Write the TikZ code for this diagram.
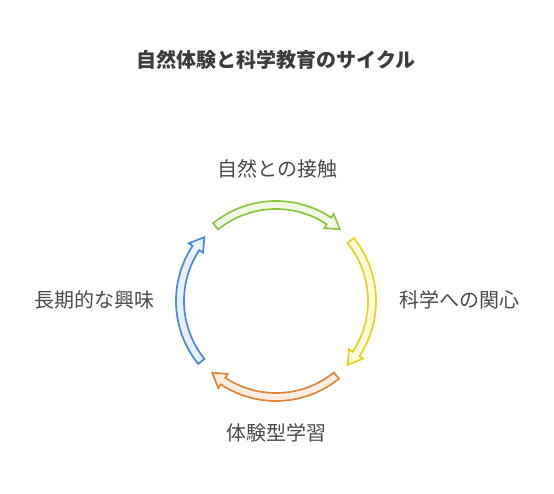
\documentclass[tikz,border=0pt]{standalone}
\usepackage{fontspec}
\setmainfont{Noto Sans CJK JP}
\usepackage{tikz}
\usetikzlibrary{positioning}
\usepackage{color}

\definecolor{grline}{HTML}{8CC63F}
\definecolor{grfill}{HTML}{F1F9E4}
\definecolor{yeline}{HTML}{E8D21E}
\definecolor{yefill}{HTML}{FFFBDC}
\definecolor{orline}{HTML}{E0843A}
\definecolor{orfill}{HTML}{FDEEE2}
\definecolor{blline}{HTML}{4A86E8}
\definecolor{blfill}{HTML}{E8F0FD}
\definecolor{labeltext}{HTML}{4A4A4A}
\definecolor{titletext}{HTML}{3C3C3C}

% one curved hollow arrow of the cycle, turned by #2 degrees
\newcommand{\cyclearrow}[2]{%
  \path[cycle arrow,#1,rotate=#2]
    (129:100) arc[start angle=129,end angle=56.5,radius=100]
    -- (56.5:104.5) -- (48.3:96) -- (56.5:87.5) -- (56.5:92)
    arc[start angle=56.5,end angle=129,radius=92] -- cycle;}

\begin{document}
\begin{tikzpicture}[x=1pt,y=1pt,
  cycle arrow/.style={line width=1.7pt,line join=miter},
  green arrow/.style={draw=grline,fill=grfill},
  yellow arrow/.style={draw=yeline,fill=yefill},
  orange arrow/.style={draw=orline,fill=orfill},
  blue arrow/.style={draw=blline,fill=blfill},
  step label/.style={font=\fontsize{20}{24}\selectfont,text=labeltext,inner sep=0pt},
  title label/.style={font=\fontsize{20}{24}\selectfont\bfseries,text=titletext,inner sep=0pt}]

  \useasboundingbox (-276,-193) rectangle (278,301);

  \coordinate (center) at (0,0);

  \node[title label] (title) at (0,241) {自然体験と科学教育のサイクル};

  \node[step label] (contact) at (1.5,132) {自然との接触};
  \node[step label] (interest) at (183,1) {科学への関心};
  \node[step label] (learning) at (1,-132) {体験型学習};
  \node[step label] (longterm) at (-181.5,1) {長期的な興味};

  \begin{scope}[shift={(center)}]
    \cyclearrow{green arrow}{0}
    \cyclearrow{yellow arrow}{-90}
    \cyclearrow{orange arrow}{-180}
    \cyclearrow{blue arrow}{90}
  \end{scope}
\end{tikzpicture}
\end{document}
